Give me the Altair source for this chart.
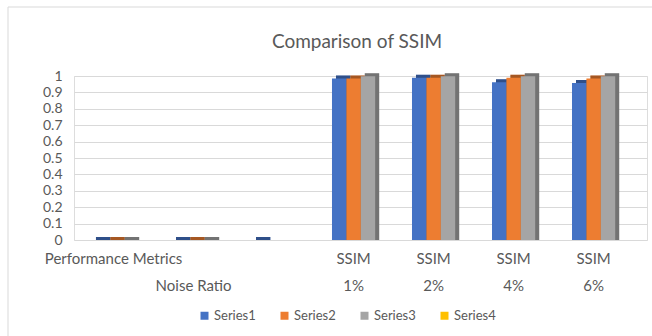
import altair as alt
import pandas as pd

# Category labels (two-level Excel axis)
cat_top = ["Performance Metrics", "", "", "SSIM", "SSIM", "SSIM", "SSIM"]
cat_bottom = ["", "Noise Ratio", "", "1%", "2%", "4%", "6%"]

series_names = ["Series1", "Series2", "Series3", "Series4"]
series1 = [0, 0, 0, 0.985, 0.99, 0.962, 0.958]
series2 = [0, 0, None, 0.985, 0.99, 0.99, 0.984]
series3 = [0, 0, None, 0.999, 0.999, 0.998, 0.999]
series4 = [None, None, None, None, None, None, None]

y_ticks = [0, 0.1, 0.2, 0.3, 0.4, 0.5, 0.6, 0.7, 0.8, 0.9, 1]

colors = ["#4472C4", "#ED7D31", "#A5A5A5", "#FFC000"]
title_text = "Comparison of SSIM"

cats = [f"{t}|{b}" for t, b in zip(cat_top, cat_bottom)]
rows = []
for name, vals in zip(series_names, [series1, series2, series3, series4]):
    for c, v in zip(cats, vals):
        if v is not None:
            rows.append({"cat": c, "series": name, "value": v, "base": 0})
df = pd.DataFrame(rows)

FONT = "Lato"
TXT = "#595959"

xscale = alt.Scale(domain=cats, paddingInner=0.46, paddingOuter=0.311, align=0.361)
x_enc = alt.X(
    "cat:N",
    scale=xscale,
    sort=cats,
    title=None,
    axis=alt.Axis(
        labelExpr="split(datum.value, '|')",
        labelAngle=0,
        labelFontSize=15,
        labelColor=TXT,
        labelFont=FONT,
        labelLineHeight=27,
        labelPadding=11,
        labelOverlap=False,
        labelBound=False,
        labelLimit=300,
        domain=False,
        ticks=False,
        grid=False,
    ),
)
y_enc = alt.Y(
    "value:Q",
    scale=alt.Scale(domain=[0, 1], nice=False),
    title=None,
    axis=alt.Axis(
        values=y_ticks,
        format="~g",
        labelFontSize=14,
        labelColor=TXT,
        labelFont=FONT,
        labelPadding=12,
        domain=False,
        ticks=False,
        gridColor="#D9D9D9",
        gridWidth=1,
    ),
)
color_enc = alt.Color(
    "series:N",
    scale=alt.Scale(domain=series_names, range=colors),
    legend=alt.Legend(
        title=None,
        orient="none",
        legendX=124,
        legendY=233,
        direction="horizontal",
        columns=4,
        gridAlign="all",
        symbolType="square",
        symbolSize=64,
        symbolStrokeWidth=0,
        labelFontSize=13,
        labelColor=TXT,
        labelFont=FONT,
        columnPadding=22,
        labelOffset=3,
    ),
)

shade_off = alt.XOffset(
    "series:N", scale=alt.Scale(domain=series_names[:3], range=[4, 47.2])
)

shade_color = alt.Chart(df).mark_bar(yOffset=-3, y2Offset=0.001).encode(
    x=x_enc, y=y_enc, y2="base:Q", xOffset=shade_off, color=color_enc
)
shade_dark = alt.Chart(df).mark_bar(
    yOffset=-3, y2Offset=0.001, color="black", opacity=0.3
).encode(x=x_enc, y=y_enc, y2="base:Q", xOffset=shade_off)

main = alt.Chart(df).mark_bar().encode(
    x=x_enc,
    y=y_enc,
    xOffset=alt.XOffset(
        "series:N",
        scale=alt.Scale(domain=series_names[:3], paddingInner=0, paddingOuter=0),
    ),
    color=color_enc,
)

frame = alt.Chart(pd.DataFrame({"a": [0]})).mark_rect(
    fill=None, stroke="#D9D9D9", strokeWidth=1
).encode(
    x=alt.value(-66), x2=alt.value(620), y=alt.value(-69), y2=alt.value(300)
)

title = alt.Chart(pd.DataFrame({"t": [title_text]})).mark_text(
    font=FONT, fontSize=19, color=TXT, baseline="middle", align="center"
).encode(x=alt.value(283), y=alt.value(-34), text="t:N")

chart = (
    alt.layer(frame, shade_color, shade_dark, main, title)
    .resolve_scale(xOffset="independent")
    .properties(
        width=573,
        height=164,
        padding={"left": 74, "top": 76, "right": 5, "bottom": 96},
        autosize="none",
    )
    .configure_view(strokeWidth=0)
    .configure(background="white")
)

chart.save("out.html", embed_options={"renderer": "svg", "actions": False})
